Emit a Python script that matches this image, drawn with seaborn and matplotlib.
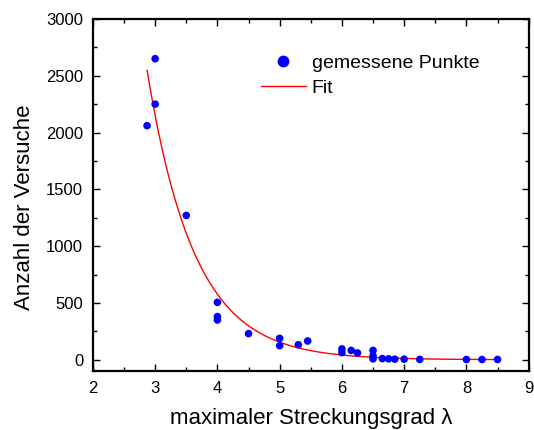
import numpy as np
import pandas as pd
import matplotlib
matplotlib.use("Agg")
import matplotlib.pyplot as plt
from matplotlib.ticker import MultipleLocator
from matplotlib.lines import Line2D
import seaborn as sns

# measured points: max stretch ratio vs. number of trials
stretch = [2.87, 3.0, 3.0, 3.5, 4.0, 4.0, 4.0, 4.5, 5.0, 5.0, 5.3, 5.45,
           6.0, 6.0, 6.15, 6.25, 6.5, 6.5, 6.5, 6.65, 6.75, 6.85, 7.0,
           7.25, 8.0, 8.25, 8.5]
trials = [2060, 2650, 2250, 1270, 505, 380, 350, 230, 188, 124, 132, 165,
          95, 62, 82, 60, 82, 35, 8, 10, 8, 5, 5, 3, 2, 2, 2]

# exponential decay fit: y = y0 + A * exp(-(x - x0) / t)
fit_x0, fit_A, fit_t, fit_y0 = 2.87, 2550.0, 0.76, 0.0
fit_range = (2.87, 8.5)

sns.set_theme(style="ticks")
plt.rcParams["font.family"] = ["Liberation Sans", "DejaVu Sans"]
plt.rcParams.update({"text.color": "black", "axes.labelcolor": "black",
                     "xtick.color": "black", "ytick.color": "black"})

pts = pd.DataFrame({"x": stretch, "y": trials})
fx = np.linspace(fit_range[0], fit_range[1], 300)
fit = pd.DataFrame({"x": fx, "y": fit_y0 + fit_A * np.exp(-(fx - fit_x0) / fit_t)})

fig = plt.figure(figsize=(5.34, 4.30), dpi=100)
ax = fig.add_axes([0.174, 0.137, 0.816, 0.819])

sns.lineplot(data=fit, x="x", y="y", ax=ax, color="#ff0000", linewidth=1.0)
sns.scatterplot(data=pts, x="x", y="y", ax=ax, color="#0000ff", s=30,
                edgecolor="none", zorder=3)

ax.set_xlim(2, 9)
ax.set_ylim(-100, 3000)
ax.xaxis.set_major_locator(MultipleLocator(1))
ax.xaxis.set_minor_locator(MultipleLocator(0.5))
ax.yaxis.set_major_locator(MultipleLocator(500))
ax.yaxis.set_minor_locator(MultipleLocator(250))
ax.tick_params(which="both", direction="in", top=True, right=True,
               labeltop=False, labelright=False, width=1.0)
ax.tick_params(which="major", length=5, labelsize=12, pad=7)
ax.tick_params(which="minor", length=3)
for s in ax.spines.values():
    s.set_linewidth(1.6)
    s.set_color("black")

ax.set_xlabel("maximaler Streckungsgrad λ", fontsize=16, labelpad=9)
ax.set_ylabel("Anzahl der Versuche", fontsize=16, labelpad=8)
ax.yaxis.label.set_y(0.464)

handles = [
    Line2D([], [], linestyle="none", marker="o", markersize=8.5,
           markerfacecolor="#0000ff", markeredgecolor="none"),
    Line2D([], [], color="#ff0000", linewidth=1.0),
]
fig.legend(handles, ["gemessene Punkte", "Fit"], loc="upper left",
           bbox_to_anchor=(261 / 534, 1 - 54 / 430), frameon=False,
           fontsize=14, handlelength=2.3, handletextpad=0.3,
           labelspacing=0.38, borderpad=0, borderaxespad=0)

fig.savefig("out.png", dpi=100)
